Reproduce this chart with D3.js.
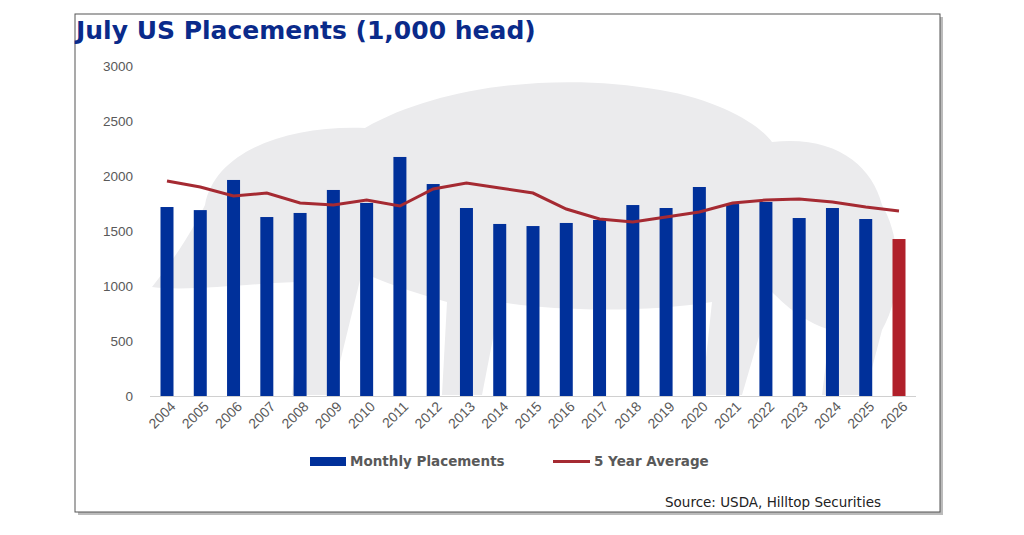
<!DOCTYPE html>
<html><head><meta charset="utf-8">
<script src="https://cdn.jsdelivr.net/npm/d3@7"></script>
<style>body{margin:0;background:#fff;font-family:Arial,"Liberation Sans",sans-serif}</style>
</head><body><svg id="c" width="1024" height="535"></svg>
<script>
const years=["2004","2005","2006","2007","2008","2009","2010","2011","2012","2013","2014","2015","2016","2017","2018","2019","2020","2021","2022","2023","2024","2025","2026"];
const placements=[1718,1690,1964,1627,1664,1873,1755,2173,1927,1709,1564,1545,1573,1600,1736,1709,1900,1745,1764,1618,1709,1609,1427];
const avg5=[1955,1900,1818,1845,1755,1736,1782,1727,1882,1936,1891,1845,1700,1609,1582,1627,1673,1755,1782,1791,1764,1718,1682];
const yTicks=[0,500,1000,1500,2000,2500,3000];

const svg=d3.select("#c");
svg.append("rect").attr("x",78).attr("y",17).attr("width",865).attr("height",498).attr("fill","#bbb");
svg.append("rect").attr("x",75).attr("y",14).attr("width",865).attr("height",498).attr("fill","#fff").attr("stroke","#555").attr("stroke-width",1);

svg.append("path").attr("fill","#ebebed")
 .attr("d","M205,205 C215,150 290,125 365,128 C440,85 560,72 660,90 C720,100 760,125 772,142 C835,135 872,165 882,205 C900,235 905,290 882,330 L865,395 L822,395 L830,330 C800,320 782,302 772,292 L742,395 L702,395 L712,302 C650,312 560,312 500,302 L482,395 L442,395 L447,302 C412,292 382,282 362,272 L332,395 L292,395 L302,282 C262,282 192,292 152,287 C172,262 192,232 205,205 Z");

const x=d3.scalePoint().domain(years).range([167,899]);
const y=d3.scaleLinear().domain([0,3000]).range([396,66]);
const bw=13;

svg.append("g").attr("transform","translate(133,0)")
 .call(d3.axisLeft(y).tickValues(yTicks).tickFormat(d3.format("d")).tickSize(0).tickPadding(0))
 .call(g=>g.select(".domain").remove())
 .call(g=>g.selectAll("text").attr("font-size",13.5).attr("fill","#595959").attr("font-family","Arial,'Liberation Sans',sans-serif"));

svg.append("line").attr("x1",150).attr("x2",916).attr("y1",396.5).attr("y2",396.5).attr("stroke","#d0d0d0");

svg.append("g").selectAll("rect").data(years).join("rect")
 .attr("x",d=>x(d)-bw/2).attr("width",bw)
 .attr("y",(d,i)=>y(placements[i])).attr("height",(d,i)=>396-y(placements[i]))
 .attr("fill",(d,i)=>i===years.length-1?"#b0202a":"#00309a");

svg.append("path").datum(avg5)
 .attr("d",d3.line().x((d,i)=>x(years[i])).y(d=>y(d)))
 .attr("fill","none").attr("stroke","#a52a32").attr("stroke-width",3);

svg.append("g").selectAll("text").data(years).join("text")
 .attr("transform",d=>`translate(${x(d)+6},404) rotate(-45)`)
 .attr("text-anchor","end").attr("dy","0.35em")
 .attr("font-size",14).attr("fill","#595959").text(d=>d);

svg.append("text").attr("x",76).attr("y",39).attr("font-size",25).attr("font-weight","bold").attr("font-family","'DejaVu Sans',sans-serif").attr("fill","#0a2a8a").text("July US Placements (1,000 head)");

svg.append("rect").attr("x",310).attr("y",457).attr("width",36).attr("height",9).attr("fill","#00309a");
svg.append("text").attr("x",350).attr("y",466).attr("font-size",13.5).attr("font-weight","bold").attr("font-family","'DejaVu Sans',sans-serif").attr("fill","#595959").text("Monthly Placements");
svg.append("line").attr("x1",553).attr("x2",590).attr("y1",461.5).attr("y2",461.5).attr("stroke","#a52a32").attr("stroke-width",3);
svg.append("text").attr("x",594).attr("y",466).attr("font-size",13.5).attr("font-weight","bold").attr("font-family","'DejaVu Sans',sans-serif").attr("fill","#595959").text("5 Year Average");

svg.append("text").attr("x",665).attr("y",507).attr("font-size",13.5).attr("font-family","'DejaVu Sans',sans-serif").attr("fill","#222").text("Source: USDA, Hilltop Securities");
</script></body></html>
